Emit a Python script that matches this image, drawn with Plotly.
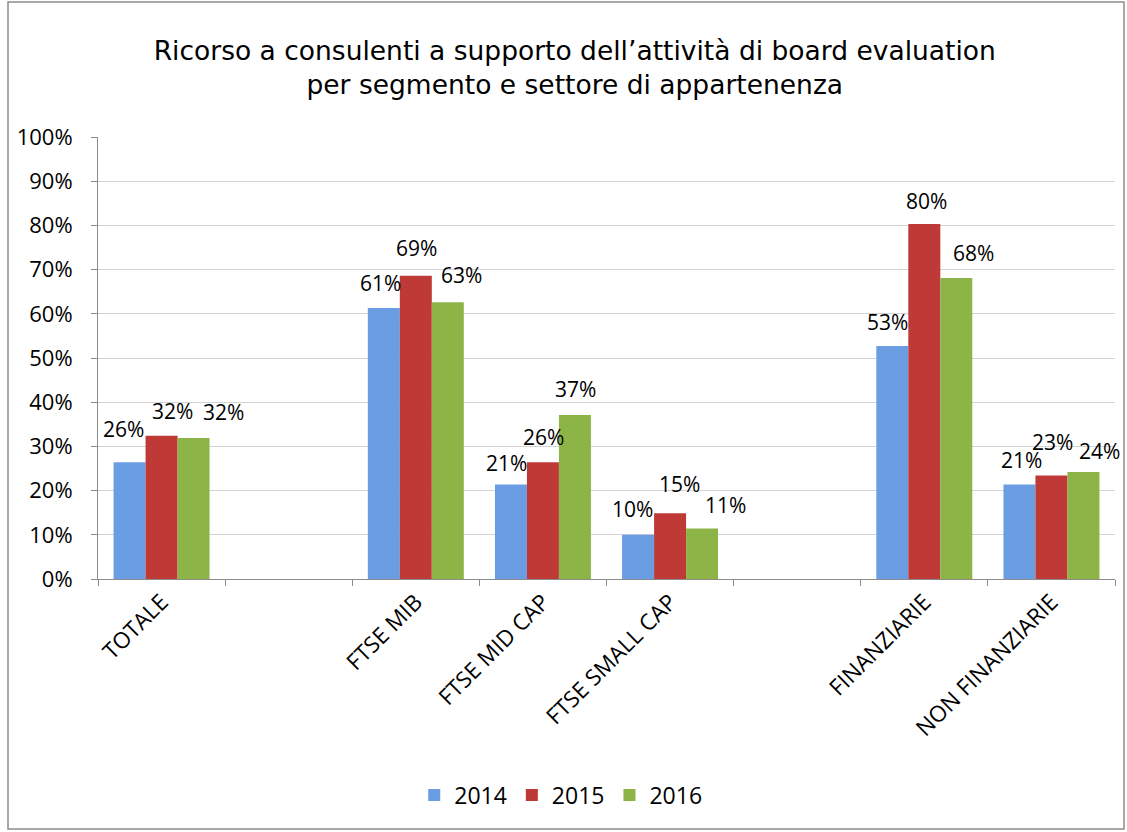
import plotly.graph_objects as go

categories = ["TOTALE", " ", "FTSE MIB", "FTSE MID CAP", "FTSE SMALL CAP", "  ", "FINANZIARIE", "NON FINANZIARIE"]
years = ["2014", "2015", "2016"]
v2014 = [26.4, None, 61.3, 21.4, 10.0, None, 52.7, 21.4]
v2015 = [32.4, None, 68.6, 26.4, 14.9, None, 80.3, 23.4]
v2016 = [31.9, None, 62.6, 37.1, 11.4, None, 68.1, 24.2]
colors = ["#6b9de3", "#bf3a37", "#8db446"]

# label placement (pixel nudges relative to the top-centre of each bar): (dx, dy)
label_nudge = {
    "2014": [(-6, 33), None, (-3, 25), (-4, 21), (-6, 26), None, (-5, 24), (2, 24)],
    "2015": [(11, 25), None, (1, 28), (1, 25), (9, 29), None, (2, 23), (1, 34)],
    "2016": [(30, 26), None, (14, 27), (1, 26), (23, 24), None, (17, 25), (16, 21)],
}
PLOT_W = 1017
bar_px = PLOT_W / len(categories) * (1 - 0.245) / 3

fig = go.Figure()
for k, (name, vals, col) in enumerate(zip(years, [v2014, v2015, v2016], colors)):
    fig.add_trace(go.Bar(
        x=categories, y=vals, name=name,
        marker=dict(color=col, line=dict(width=0)),
        cliponaxis=False,
    ))
    for i, (c, v) in enumerate(zip(categories, vals)):
        if v is None:
            continue
        dx, dy = label_nudge[name][i]
        fig.add_annotation(
            x=c, y=v, xref="x", yref="y", text=f"{v:.0f}%", showarrow=False,
            xanchor="center", yanchor="middle",
            xshift=(k - 1) * bar_px + dx, yshift=dy,
            font=dict(family="Open Sans", size=21, color="#000000"),
        )

fig.update_layout(
    width=1127, height=832,
    paper_bgcolor="white", plot_bgcolor="white",
    margin=dict(l=98, r=1127 - 98 - PLOT_W, t=137, b=253),
    barmode="group", bargap=0.245, bargroupgap=0,
    title=dict(
        text="Ricorso a consulenti a supporto dell’attività di board evaluation<br>per segmento e settore di appartenenza",
        x=0.51, xanchor="center", xref="container", y=0.928, yanchor="top",
        font=dict(family="DejaVu Sans", size=26.5, color="#000000"),
    ),
    font=dict(family="Open Sans", size=20, color="#000000"),
    showlegend=True,
    legend=dict(orientation="h", x=0.455, xanchor="center", y=-0.489, yanchor="middle",
                font=dict(family="Open Sans", size=23, color="#000000"),
                itemwidth=30, traceorder="normal"),
)
fig.update_xaxes(
    type="category", range=[-0.5, len(categories) - 0.5],
    tickson="boundaries", ticks="outside", ticklen=6, tickcolor="#8c8c8c",
    showline=True, linecolor="#8c8c8c", linewidth=1, showgrid=False, automargin=False,
    tickangle=-45, tickfont=dict(family="Open Sans", size=22.5, color="#000000"),
)
fig.update_yaxes(
    range=[0, 100], dtick=10, ticksuffix="%", ticks="outside", ticklen=6, tickcolor="#8c8c8c",
    showline=True, linecolor="#8c8c8c", linewidth=1, automargin=False,
    showgrid=True, gridcolor="#d3d3d3", gridwidth=1, zeroline=False,
    tickfont=dict(family="Open Sans", size=22, color="#000000"),
    ticklabelstandoff=14,
)
fig.add_shape(type="rect", xref="paper", yref="paper",
              x0=(8 - 98) / PLOT_W, x1=(1124 - 98) / PLOT_W,
              y0=(579 - 829) / 442, y1=(579 - 2) / 442,
              line=dict(color="#8c8c8c", width=1.5), fillcolor="rgba(0,0,0,0)", layer="below")

fig.write_html("out.html")
